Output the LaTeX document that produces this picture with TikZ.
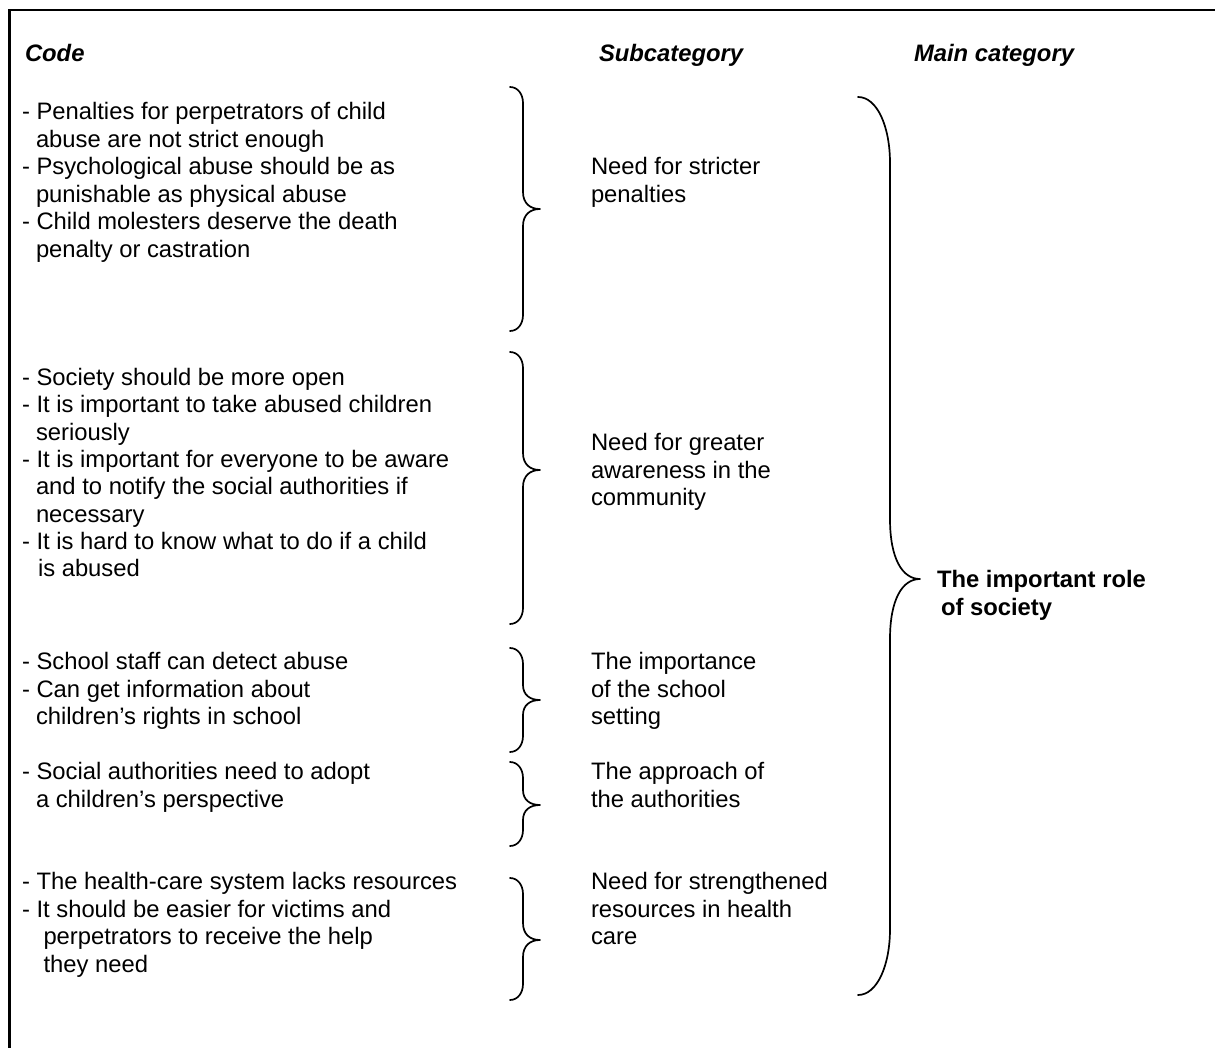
\documentclass[tikz,border=0pt]{standalone}
\usepackage{fontspec}
\setmainfont{Liberation Sans}
\tikzset{
  txt/.style={anchor=base west, inner sep=0pt, outer sep=0pt, font=\fontsize{23.8}{28}\selectfont},
  hdr/.style={txt, font=\fontsize{23.8}{28}\selectfont\bfseries\itshape},
  maintxt/.style={txt, font=\fontsize{23.8}{28}\selectfont\bfseries},
  bracepen/.style={line width=1.7pt, line cap=round, line join=round},
  framepen/.style={line width=2.2pt}
}
% #1 x of ends, #2 x of spine, #3 x of tip, #4 y top, #5 y bottom, #6 end curve length, #7 tip curve length, #8 y of tip
\newcommand\mybrace[8]{%
  \draw[bracepen] (#1,#4) .. controls ({#1+0.6*(#2-#1)},#4) and (#2,{#4+0.45*#6}) .. (#2,{#4+#6})
    -- (#2,{#8-#7}) .. controls (#2,{#8-0.35*#7}) and ({#2+0.4*(#3-#2)},#8) .. (#3,#8)
    .. controls ({#2+0.4*(#3-#2)},#8) and (#2,{#8+0.35*#7}) .. (#2,{#8+#7})
    -- (#2,{#5-#6}) .. controls (#2,{#5-0.45*#6}) and ({#1+0.6*(#2-#1)},#5) .. (#1,#5);}
\begin{document}
\begin{tikzpicture}[x=1pt,y=-1pt]
\useasboundingbox (0,0) rectangle (1215,1048);
\draw[framepen] (9.5,1048) -- (9.5,10) -- (1215,10);

% headers
\node[hdr] (hcode) at (25,61.5) {Code};
\node[hdr] (hsub) at (599,61.5) {Subcategory};
\node[hdr] (hmain) at (914,61.5) {Main category};

% block 1
\node[txt] (c1a) at (22,119.5) {- Penalties for perpetrators of child};
\node[txt] (c1b) at (36,147.1) {abuse are not strict enough};
\node[txt] (c1c) at (22,174.7) {- Psychological abuse should be as};
\node[txt] (c1d) at (36,202.3) {punishable as physical abuse};
\node[txt] (c1e) at (22,229.9) {- Child molesters deserve the death};
\node[txt] (c1f) at (36,257.5) {penalty or castration};
\node[txt] (s1a) at (591,175) {Need for stricter};
\node[txt] (s1b) at (591,202.6) {penalties};

% block 2
\node[txt] (c2a) at (22,385.5) {- Society should be more open};
\node[txt] (c2b) at (22,412.8) {- It is important to take abused children};
\node[txt] (c2c) at (36,440.1) {seriously};
\node[txt] (c2d) at (22,467.4) {- It is important for everyone to be aware};
\node[txt] (c2e) at (36,494.7) {and to notify the social authorities if};
\node[txt] (c2f) at (36,522) {necessary};
\node[txt] (c2g) at (22,549.3) {- It is hard to know what to do if a child};
\node[txt] (c2h) at (38,576.6) {is abused};
\node[txt] (s2a) at (591,450.5) {Need for greater};
\node[txt] (s2b) at (591,478) {awareness in the};
\node[txt] (s2c) at (591,505.5) {community};

% block 3
\node[txt] (c3a) at (22,669.5) {- School staff can detect abuse};
\node[txt] (c3b) at (22,697) {- Can get information about};
\node[txt] (c3c) at (36,724.5) {children’s rights in school};
\node[txt] (s3a) at (591,669.5) {The importance};
\node[txt] (s3b) at (591,697) {of the school};
\node[txt] (s3c) at (591,724.5) {setting};

% block 4
\node[txt] (c4a) at (22,779.5) {- Social authorities need to adopt};
\node[txt] (c4b) at (36,807) {a children’s perspective};
\node[txt] (s4a) at (591,779.5) {The approach of};
\node[txt] (s4b) at (591,807) {the authorities};

% block 5
\node[txt] (c5a) at (22,889.5) {- The health-care system lacks resources};
\node[txt] (c5b) at (22,917.2) {- It should be easier for victims and};
\node[txt] (c5c) at (43.5,944.9) {perpetrators to receive the help};
\node[txt] (c5d) at (43.5,972.6) {they need};
\node[txt] (s5a) at (591,889.5) {Need for strengthened};
\node[txt] (s5b) at (591,917.2) {resources in health};
\node[txt] (s5c) at (591,944.9) {care};

% main category
\node[maintxt] (m1) at (937,587.5) {The important role};
\node[maintxt] (m2) at (941,615) {of society};

% braces
\mybrace{510}{523}{540}{87}{331}{16}{17}{209}
\mybrace{510}{523}{540}{352}{624}{16}{17}{470}
\mybrace{510}{523}{540}{648}{752}{16}{15}{700}
\mybrace{510}{523}{540}{762}{846}{16}{15}{805}
\mybrace{510}{523}{540}{878}{1000}{16}{17}{940}
\mybrace{858}{890}{920}{97}{995}{66}{60}{579}
\end{tikzpicture}
\end{document}
